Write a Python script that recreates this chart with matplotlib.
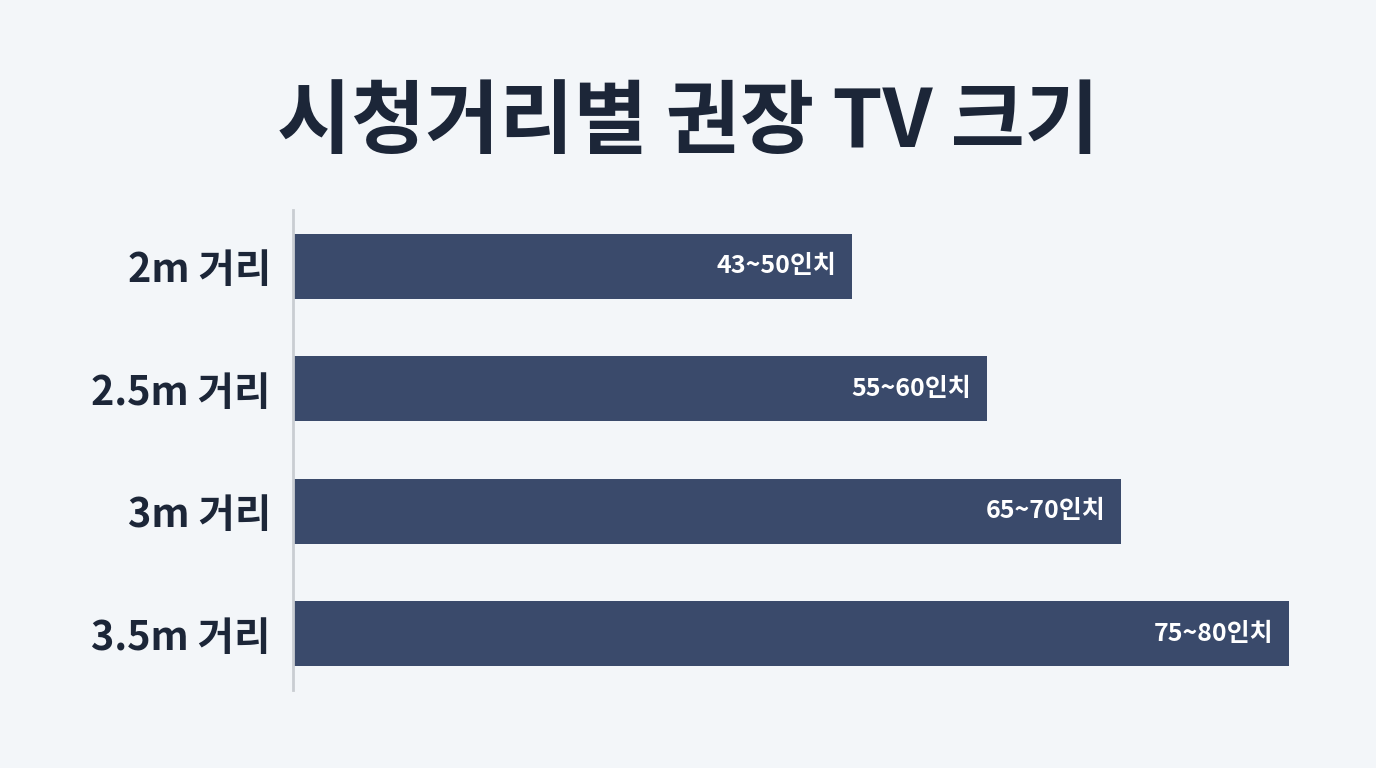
import matplotlib
matplotlib.use("Agg")
import matplotlib.pyplot as plt

# data
distances = ["2m 거리", "2.5m 거리", "3m 거리", "3.5m 거리"]
bar_values = [50, 62, 74, 89]
size_labels = ["43~50인치", "55~60인치", "65~70인치", "75~80인치"]

BG = "#f3f6f9"
BAR = "#3a4a6b"
INK = "#1c2638"

plt.rcParams["font.family"] = ["Noto Sans CJK KR", "DejaVu Sans"]

fig = plt.figure(figsize=(13.76, 7.68), dpi=100, facecolor=BG)
ax = fig.add_axes([293 / 1376, 1 - 690 / 768, 1007 / 1376, 480 / 768])
ax.set_facecolor(BG)

y = list(range(len(distances)))
ax.barh(y, bar_values, height=0.53, color=BAR)
for yi, v, lab in zip(y, bar_values, size_labels):
    ax.text(v - 1.4, yi, lab, ha="right", va="center", color="white",
            fontsize=18, fontweight="bold")

ax.set_xlim(0, 90)
ax.set_ylim(3.46, -0.46)
ax.set_yticks(y)
ax.set_yticklabels(distances, fontsize=28.5, fontweight="bold", color=INK)
ax.tick_params(axis="y", length=0, pad=16)
ax.set_xticks([])
for s in ("top", "right", "bottom"):
    ax.spines[s].set_visible(False)
ax.spines["left"].set_color("#c9cdd2")
ax.spines["left"].set_linewidth(2)

fig.text(0.5, 1 - 124 / 768, "시청거리별 권장 TV 크기", ha="center", va="center",
         fontsize=58, fontweight="bold", color=INK)

fig.savefig("out.png", dpi=100, facecolor=BG)
